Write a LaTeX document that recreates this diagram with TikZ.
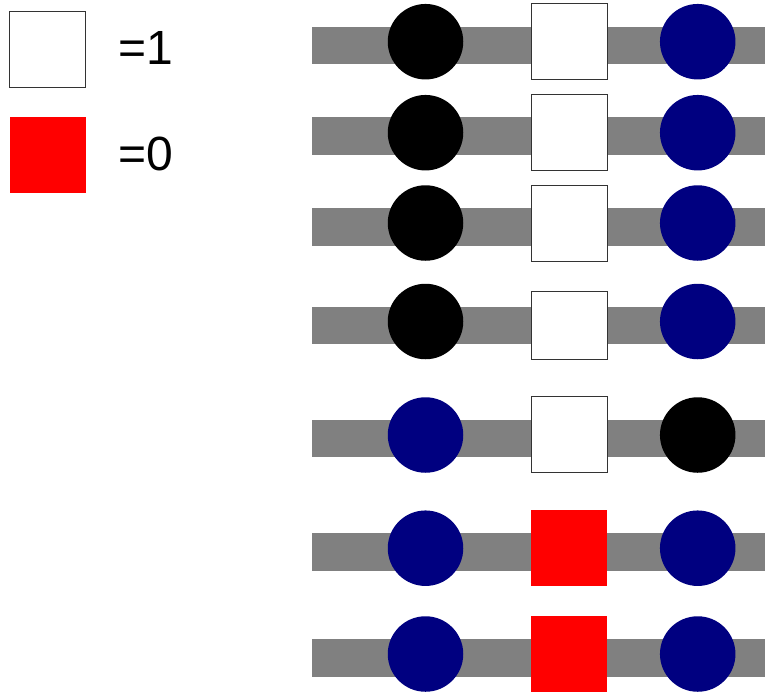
\documentclass[tikz,border=0pt]{standalone}
\usepackage{fontspec}
\setmainfont{Liberation Sans}
\definecolor{navyc}{HTML}{000080}
\definecolor{barc}{HTML}{808080}
\definecolor{edgec}{HTML}{333333}
\begin{document}
\begin{tikzpicture}[x=1pt,y=-1pt,
  ball/.style={circle,inner sep=0pt,minimum size=75.5pt,draw=none},
  one/.style={rectangle,inner sep=0pt,minimum width=75.7pt,minimum height=76pt,fill=white,draw=edgec,line width=1pt},
  zero/.style={rectangle,inner sep=0pt,minimum width=75.7pt,minimum height=76pt,fill=red,draw=none},
  bar/.style={draw=barc,line width=37.7pt},
  lbl/.style={anchor=base west,inner sep=0pt,font=\fontsize{48}{48}\selectfont}]
\useasboundingbox (0,0) rectangle (767,691);
% legend
\node[one] (leg1) at (47.5,49.3) {};
\node[zero] (leg0) at (47.8,155) {};
\node[lbl] (t1) at (118.4,64.3) {=1};
\node[lbl] (t0) at (118.4,170.3) {=0};
% rows
\foreach \i/\cy/\by/\lc/\rc/\sq in {1/41.7/45.5/black/navyc/one,
  2/132.7/136.2/black/navyc/one,
  3/223/227.2/black/navyc/one,
  4/321.5/325.5/black/navyc/none,
  5/435/438.5/navyc/black/one,
  6/548.2/552.2/navyc/navyc/zero,
  7/654/657.8/navyc/navyc/zero}{
  \coordinate (L\i) at (312,\by);
  \coordinate (R\i) at (765,\by);
  \draw[bar] (L\i) -- (R\i);
  \node[ball,fill=\lc] (a\i) at (425.5,\cy) {};
  \node[ball,fill=\rc] (b\i) at (697.7,\cy) {};
}
\foreach \i/\cy/\sq in {1/41.7/one,2/132.7/one,3/223/one,5/434.7/one,6/548.2/zero,7/654/zero}{
  \node[\sq] (s\i) at (569.2,\cy) {};
}
\node[one,minimum height=68pt] (s4) at (569.2,325.2) {};
\end{tikzpicture}
\end{document}
